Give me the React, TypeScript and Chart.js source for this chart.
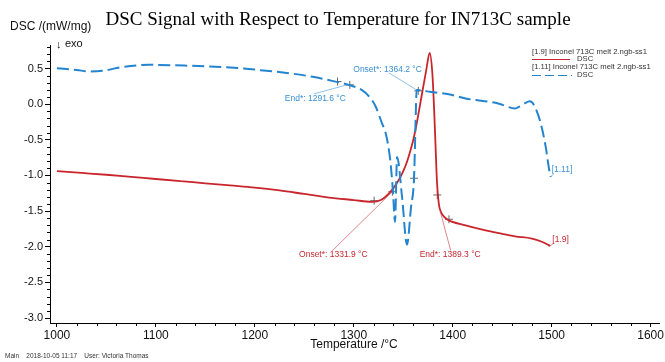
import React, { useEffect, useRef } from "react";
import { Chart, registerables } from "chart.js";

Chart.register(...registerables);

// ---------- data ----------
const redTemps = [1000, 1025, 1050, 1075, 1100, 1125, 1150, 1175, 1200, 1225, 1250, 1275, 1300, 1318, 1328, 1337, 1343, 1349, 1354, 1357.5, 1361, 1364.3, 1369, 1373.3, 1376.7, 1379.4, 1381.3, 1382.7, 1384, 1386, 1388, 1392.8, 1396, 1413, 1430, 1446.6, 1463, 1480, 1490, 1498.7];
const redValues = [-0.94, -0.965, -0.99, -1.02, -1.05, -1.08, -1.11, -1.14, -1.17, -1.21, -1.26, -1.31, -1.345, -1.37, -1.34, -1.23, -1.12, -0.97, -0.8, -0.64, -0.45, -0.22, 0.15, 0.48, 0.72, 0.44, -0.1, -0.6, -1.06, -1.4, -1.51, -1.6, -1.63, -1.7, -1.76, -1.81, -1.855, -1.885, -1.93, -1.99];

const blueTemps = [1000, 1020, 1033, 1046, 1066, 1093, 1133, 1160, 1184, 1200, 1234, 1260, 1277, 1295, 1308, 1316, 1322, 1328, 1333, 1337, 1339.5, 1341.7, 1343.8, 1348.8, 1353.8, 1357.9, 1360.9, 1362.9, 1363.5, 1378, 1396, 1413, 1446, 1463, 1468, 1478, 1482, 1489, 1494, 1497.5, 1499];
const blueValues = [0.505, 0.48, 0.458, 0.468, 0.52, 0.552, 0.54, 0.525, 0.505, 0.485, 0.435, 0.38, 0.33, 0.27, 0.2, 0.1, -0.03, -0.25, -0.45, -0.8, -1.2, -1.65, -0.74, -1.3, -1.97, -1.44, -1.04, -0.03, 0.2, 0.17, 0.14, 0.08, 0.01, -0.06, -0.03, 0.04, -0.01, -0.27, -0.6, -0.92, -1.02];

const blueMarkerTemps = [1283.6, 1296, 1365.2, 1360.9];
const blueMarkerValues = [0.317, 0.271, 0.187, -1.039];
const redMarkerTemps = [1320.6, 1339, 1384.4, 1396.2];
const redMarkerValues = [-1.354, -1.228, -1.274, -1.615];

const xTickValues = [1000, 1100, 1200, 1300, 1400, 1500, 1600];
const yTickValues = [-3.0, -2.5, -2.0, -1.5, -1.0, -0.5, 0.0, 0.5];

const titleText = "DSC Signal with Respect to Temperature for IN713C sample";
const yAxisText = "DSC /(mW/mg)";
const xAxisText = "Temperature /°C";
const exoText = "exo";
const footerText = "Main    2018-10-05 11:17    User: Victoria Thomas";
const legendFile1 = "[1.9] Inconel 713C melt 2.ngb-ss1";
const legendFile2 = "[1.11] Inconel 713C melt 2.ngb-ss1";
const legendSignal = "DSC";

const blueEndText = "End*: 1291.6 °C";
const blueOnsetText = "Onset*: 1364.2 °C";
const redOnsetText = "Onset*: 1331.9 °C";
const redEndText = "End*: 1389.3 °C";
const redTag = "[1.9]";
const blueTag = "[1.11]";

// ---------- styles ----------
const RED = "#c9252c";
const BLUE = "#2384cf";
const RED_TXT = "#c2282f";
const BLUE_TXT = "#3a8fd2";
const SANS = "'Liberation Sans', Arial, sans-serif";

const toPts = (xs: number[], ys: number[]) => xs.map((x, i) => ({ x, y: ys[i] }));

type Lbl = { text: string; color: string; ax: number; ay: number; tx: number; ty: number; l1: [number, number]; l2: [number, number] };

export default function App() {
  const ref = useRef<HTMLCanvasElement | null>(null);

  useEffect(() => {
    if (!ref.current) return;

    const decor = {
      id: "decor",
      afterDraw(chart: any) {
        const ctx = chart.ctx as CanvasRenderingContext2D;
        const xs = chart.scales.x;
        const ys = chart.scales.y;
        const a = chart.chartArea;
        ctx.save();
        // minor ticks
        ctx.strokeStyle = "#000";
        ctx.lineWidth = 1;
        for (let i = -30; i <= 8; i++) {
          if (i % 5 === 0) continue;
          const y = Math.round(ys.getPixelForValue(i / 10)) + 0.5;
          ctx.beginPath();
          ctx.moveTo(a.left - 3, y);
          ctx.lineTo(a.left, y);
          ctx.stroke();
        }
        for (let t = 1000; t <= 1600; t += 20) {
          if (t % 100 === 0) continue;
          const x = Math.round(xs.getPixelForValue(t)) + 0.5;
          ctx.beginPath();
          ctx.moveTo(x, a.bottom);
          ctx.lineTo(x, a.bottom + 3);
          ctx.stroke();
        }

        // title
        ctx.fillStyle = "#000";
        ctx.textBaseline = "middle";
        ctx.textAlign = "center";
        ctx.font = "19px 'Liberation Serif', 'Times New Roman', serif";
        ctx.fillText(titleText, 338, 20);

        // y axis title
        ctx.textAlign = "left";
        ctx.font = `12px ${SANS}`;
        ctx.fillStyle = "#111";
        ctx.fillText(yAxisText, 10, 27);
        ctx.font = `11px ${SANS}`;
        ctx.fillText("↓", 56, 45);
        ctx.fillText(exoText, 65, 44);

        // x axis title
        ctx.textAlign = "center";
        ctx.font = `12px ${SANS}`;
        ctx.fillText(xAxisText, 354, 345);

        // footer
        ctx.textAlign = "left";
        ctx.font = `6.5px ${SANS}`;
        ctx.fillStyle = "#333";
        ctx.fillText(footerText, 5, 356);

        // legend
        ctx.font = `7.7px ${SANS}`;
        ctx.fillStyle = "#333";
        ctx.fillText(legendFile1, 532, 52);
        ctx.fillText(legendSignal, 577, 59);
        ctx.fillText(legendFile2, 532, 67);
        ctx.fillText(legendSignal, 577, 75);
        ctx.lineWidth = 1;
        ctx.strokeStyle = RED;
        ctx.beginPath();
        ctx.moveTo(532, 59.5);
        ctx.lineTo(570, 59.5);
        ctx.stroke();
        ctx.strokeStyle = BLUE;
        ctx.setLineDash([9, 4]);
        ctx.beginPath();
        ctx.moveTo(532, 75.5);
        ctx.lineTo(572, 75.5);
        ctx.stroke();
        ctx.setLineDash([]);

        // annotations
        const px = (t: number, v: number): [number, number] => [xs.getPixelForValue(t), ys.getPixelForValue(v)];
        const bEnd = px(blueMarkerTemps[1], blueMarkerValues[1]);
        const bOn = px(blueMarkerTemps[2], blueMarkerValues[2]);
        const rOn = px(redMarkerTemps[1], redMarkerValues[1]);
        const rEnd = px(redMarkerTemps[3], redMarkerValues[3]);
        const rLast = px(redTemps[redTemps.length - 1], redValues[redValues.length - 1]);
        const bLast = px(blueTemps[blueTemps.length - 1], blueValues[blueValues.length - 1]);
        const labels: Lbl[] = [
          { text: blueEndText, color: BLUE_TXT, ax: bEnd[0], ay: bEnd[1], tx: -65, ty: 13.5, l1: [-35.7, 9], l2: [-1, -0.5] },
          { text: blueOnsetText, color: BLUE_TXT, ax: bOn[0], ay: bOn[1], tx: -65, ty: -21, l1: [-29.3, -18], l2: [-1, -0.5] },
          { text: redOnsetText, color: RED_TXT, ax: rOn[0], ay: rOn[1], tx: -93.3, ty: 63.3, l1: [-60.3, 59.3], l2: [0, 0] },
          { text: redEndText, color: RED_TXT, ax: rEnd[0], ay: rEnd[1], tx: -29.3, ty: 35.7, l1: [1.7, 31], l2: [-8.3, -6.3] },
          { text: redTag, color: RED_TXT, ax: rLast[0], ay: rLast[1], tx: 2, ty: -6, l1: [0, 0], l2: [3, -3] },
          { text: blueTag, color: BLUE_TXT, ax: bLast[0], ay: bLast[1], tx: 1, ty: -7, l1: [0, 0], l2: [3, -3] },
        ];
        ctx.font = `8.5px ${SANS}`;
        ctx.textAlign = "left";
        for (const l of labels) {
          ctx.strokeStyle = l.color;
          ctx.globalAlpha = 0.8;
          ctx.lineWidth = 0.7;
          ctx.beginPath();
          ctx.moveTo(l.ax + l.l1[0], l.ay + l.l1[1]);
          ctx.lineTo(l.ax + l.l2[0], l.ay + l.l2[1]);
          ctx.stroke();
          ctx.globalAlpha = 1;
          ctx.fillStyle = l.color;
          ctx.fillText(l.text, l.ax + l.tx, l.ay + l.ty);
        }
        ctx.restore();
      },
    };

    const chart = new Chart(ref.current, {
      type: "line",
      data: {
        datasets: [
          {
            label: "blue",
            data: toPts(blueTemps, blueValues),
            borderColor: BLUE,
            borderWidth: 2,
            borderDash: [12, 5],
            pointRadius: 0,
            cubicInterpolationMode: "monotone",
            fill: false,
          },
          {
            label: "red",
            data: toPts(redTemps, redValues),
            borderColor: RED,
            borderWidth: 1.8,
            pointRadius: 0,
            cubicInterpolationMode: "monotone",
            fill: false,
          },
          {
            type: "scatter",
            label: "bm",
            data: toPts(blueMarkerTemps, blueMarkerValues),
            pointStyle: "cross",
            pointRadius: 4,
            borderColor: "#666",
            borderWidth: 1,
            showLine: false,
          } as any,
          {
            type: "scatter",
            label: "rm",
            data: toPts(redMarkerTemps, redMarkerValues),
            pointStyle: "cross",
            pointRadius: 4,
            borderColor: "#666",
            borderWidth: 1,
            showLine: false,
          } as any,
        ],
      },
      options: {
        responsive: false,
        animation: false,
        devicePixelRatio: 1,
        layout: { padding: { left: 0, top: 45, right: 4, bottom: 0 }, autoPadding: false },
        plugins: { legend: { display: false }, tooltip: { enabled: false }, title: { display: false } },
        scales: {
          x: {
            type: "linear",
            min: 993,
            max: 1609,
            afterBuildTicks: (s: any) => {
              s.ticks = xTickValues.map((v) => ({ value: v }));
            },
            afterFit: (s: any) => {
              s.height = 39;
            },
            ticks: {
              autoSkip: false,
              maxRotation: 0,
              padding: 1,
              color: "#111",
              font: { family: SANS, size: 12 },
              callback: (v: any) => String(v),
            },
            grid: { drawOnChartArea: false, drawTicks: true, tickLength: 4, tickColor: "#000" },
            border: { display: true, color: "#000", width: 1 },
          },
          y: {
            type: "linear",
            min: -3.07,
            max: 0.83,
            afterBuildTicks: (s: any) => {
              s.ticks = yTickValues.map((v) => ({ value: v }));
            },
            afterFit: (s: any) => {
              s.width = 50;
            },
            ticks: {
              autoSkip: false,
              padding: 2,
              color: "#111",
              font: { family: SANS, size: 11 },
              callback: (v: any) => Number(v).toFixed(1),
            },
            grid: { drawOnChartArea: false, drawTicks: true, tickLength: 5, tickColor: "#000" },
            border: { display: true, color: "#000", width: 1 },
          },
        },
      },
      plugins: [decor],
    });
    return () => chart.destroy();
  }, []);

  return (
    <div style={{ position: "absolute", left: 0, top: 0, width: 665, height: 362, background: "#fff" }}>
      <canvas ref={ref} width={665} height={362} style={{ width: 665, height: 362, display: "block" }} />
    </div>
  );
}
